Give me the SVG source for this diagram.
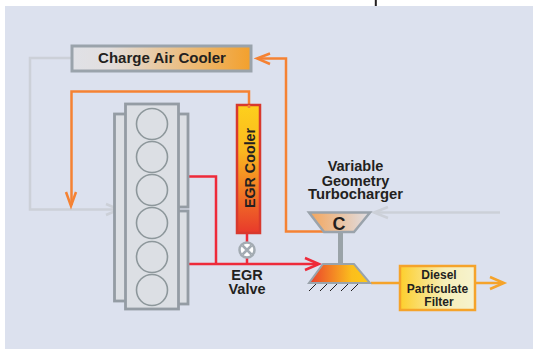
<svg xmlns="http://www.w3.org/2000/svg" width="533" height="349" viewBox="0 0 533 349">
<style>
text{font-family:"Liberation Sans",Arial,sans-serif;font-weight:bold;fill:#231f20;text-anchor:middle}
.gray{fill:none;stroke:#ccd0d8;stroke-width:2.5}
.or{fill:none;stroke:#f58233;stroke-width:2.5}
.red{fill:none;stroke:#ee2a3a;stroke-width:2.5}
.yo{fill:none;stroke:#f5a32a;stroke-width:2.5}
.blk{fill:#dcdfe4;stroke:#949ca4;stroke-width:2.8}
.cyl{fill:#dcdfe4;stroke:#8d979b;stroke-width:1.6}
</style>
<defs>
<linearGradient id="cac"><stop offset="0" stop-color="#e0e1e6"/><stop offset=".2" stop-color="#e2dfe0"/><stop offset="1" stop-color="#f3a02c"/></linearGradient>
<linearGradient id="egr" x1="0" y1="0" x2="0" y2="1"><stop offset="0" stop-color="#fdd01c"/><stop offset=".35" stop-color="#fbb91f"/><stop offset="1" stop-color="#e8392b"/></linearGradient>
<linearGradient id="comp"><stop offset="0" stop-color="#f4a55a"/><stop offset="1" stop-color="#dfdfe6"/></linearGradient>
<linearGradient id="turb"><stop offset="0" stop-color="#ea3f2d"/><stop offset=".7" stop-color="#fbbe1d"/><stop offset="1" stop-color="#fdc916"/></linearGradient>
<linearGradient id="dpf"><stop offset="0" stop-color="#fdcf2c"/><stop offset=".6" stop-color="#f6eeb8"/><stop offset="1" stop-color="#f6f3cf"/></linearGradient>
</defs>
<rect x="0" y="0" width="533" height="349" fill="#fff"/>
<rect x="5" y="6" width="528" height="343" fill="#dce1ee"/>
<rect x="374.800" y="0" width="2" height="6" fill="#231f20"/>
<g id="connectors">
<path class="gray" d="M71 58H30V209.500H118"/>
<path class="gray" d="M106 204L119 209.500L106 215"/>
<path class="gray" d="M500 212.500H375"/>
<path class="gray" d="M388 207L374 212.500L388 218"/>
<path class="or" d="M249 108V91.500H71.500V205"/>
<path class="or" d="M66 192L71 206L76 192" stroke-width="3"/>
<path class="or" d="M323 231.500H286V58.500H258"/>
<path class="or" d="M270 53.500L257 58.500L270 64" stroke-width="3"/>
<path class="red" d="M185 176.500H216V264"/>
<path class="red" d="M188 264H318"/>
<path class="red" d="M305 258L319 264L305 270" stroke-width="3"/>
<path class="red" d="M247 233V243M247 258V264"/>
<path class="yo" d="M371 283H400M475 283H503"/>
<path class="yo" d="M490 277L504 283L490 289" stroke-width="3"/>
</g>
<g id="charge-air-cooler">
<rect x="72" y="46" width="179" height="25" fill="url(#cac)" stroke="#9aa3ab" stroke-width="3"/>
<text x="162" y="63" font-size="15">Charge Air Cooler</text>
</g>
<g id="engine">
<rect class="blk" x="114.500" y="114" width="12" height="187"/>
<rect class="blk" x="177" y="114" width="11" height="93"/>
<rect class="blk" x="177" y="211" width="11" height="93"/>
<rect class="blk" x="125.500" y="104" width="53" height="205"/>
<circle class="cyl" cx="152" cy="124" r="15.500"/>
<circle class="cyl" cx="152" cy="157" r="15.500"/>
<circle class="cyl" cx="152" cy="190" r="15.500"/>
<circle class="cyl" cx="152" cy="223" r="15.500"/>
<circle class="cyl" cx="152" cy="257" r="15.500"/>
<circle class="cyl" cx="152" cy="290" r="15.500"/>
</g>
<g id="egr-cooler">
<rect x="237" y="105" width="23" height="128" fill="url(#egr)" stroke="#d8392d" stroke-width="2.500"/>
<path d="M249 105V108" class="or"/>
<text transform="translate(254.500 168) rotate(-90)" font-size="14.300">EGR Cooler</text>
</g>
<g id="egr-valve">
<circle cx="247" cy="250" r="7.500" fill="#fff" stroke="#a3abb2" stroke-width="2.500"/>
<path d="M242.500 245.500L251.500 254.500M251.500 245.500L242.500 254.500" stroke="#a3abb2" stroke-width="2.500"/>
<text x="247" y="280" font-size="14.500">EGR</text>
<text x="247" y="294" font-size="14.500">Valve</text>
</g>
<g id="turbocharger">
<text x="355.500" y="171" font-size="14.500">Variable</text>
<text x="355.500" y="185.500" font-size="14.500">Geometry</text>
<text x="355.500" y="199" font-size="14.800">Turbocharger</text>
<rect x="338" y="232" width="5" height="32" fill="#9aa3a8"/>
<path d="M309 212.500H370L354 232H324Z" fill="url(#comp)" stroke="#9aa3ab" stroke-width="2.500"/>
<text x="339" y="230" font-size="18">C</text>
<path d="M323 264H354L370 283H309Z" fill="url(#turb)" stroke="#9aa3ab" stroke-width="2"/>
<path d="M309 291L316 284M320 291L327 284M330 291L337 284M341 291L348 284M351 291L358 284" stroke="#231f20" stroke-width="1" fill="none"/>
</g>
<g id="diesel-particulate-filter">
<rect x="400" y="266" width="75" height="44" fill="url(#dpf)" stroke="#f5a32a" stroke-width="2.500"/>
<text x="439" y="279" font-size="12">Diesel</text>
<text x="437.500" y="292.500" font-size="12">Particulate</text>
<text x="439" y="306" font-size="12">Filter</text>
</g>
</svg>
